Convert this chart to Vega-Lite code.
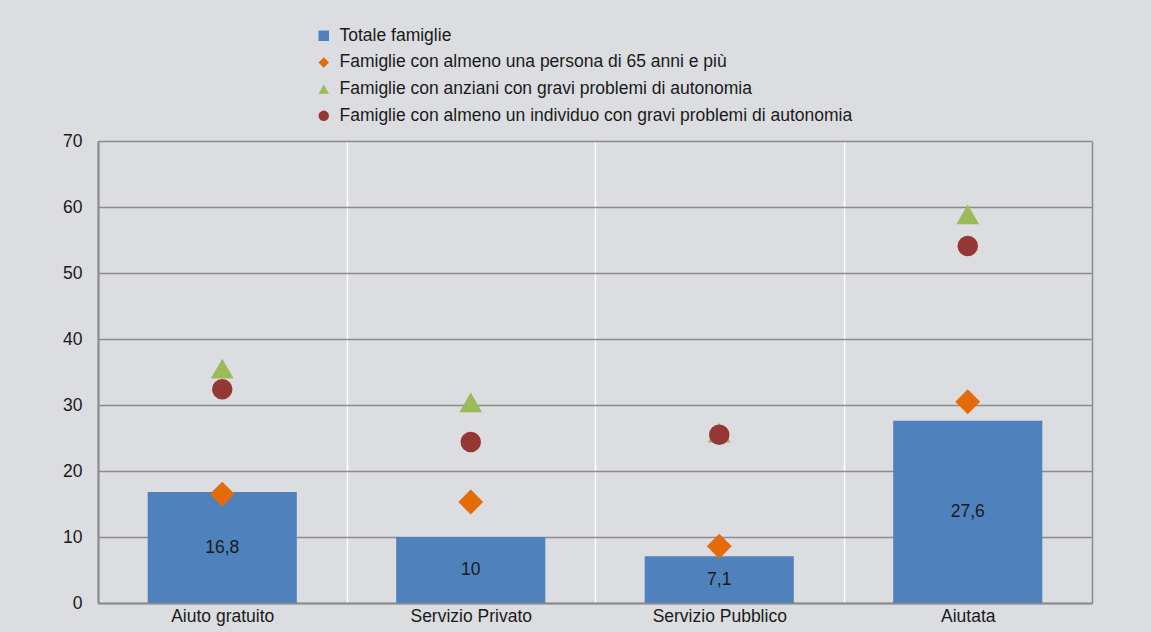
{
  "$schema": "https://vega.github.io/schema/vega-lite/v6.json",
  "width": 994,
  "height": 462,
  "autosize": {"type": "none"},
  "padding": {"left": 98, "top": 141, "right": 59, "bottom": 29},
  "background": "#dcdde0",
  "config": {
    "view": {"stroke": null},
    "font": "Liberation Sans",
    "locale": {"number": {"decimal": ",", "thousands": ".", "grouping": [3], "currency": ["€", ""]}},
    "legend": {
      "orient": "none",
      "legendX": 217,
      "legendY": -114,
      "title": null,
      "labelFontSize": 17.5,
      "labelColor": "#1a1a1a",
      "labelLimit": 800,
      "symbolSize": 110,
      "labelOffset": 7,
      "rowPadding": 7.7,
      "padding": 0,
      "symbolStrokeWidth": 0
    }
  },
  "data": {
    "values": [
      {"categoria": "Aiuto gratuito", "serie": "Totale famiglie", "valore": 16.8},
      {"categoria": "Servizio Privato", "serie": "Totale famiglie", "valore": 10},
      {"categoria": "Servizio Pubblico", "serie": "Totale famiglie", "valore": 7.1},
      {"categoria": "Aiutata", "serie": "Totale famiglie", "valore": 27.6},
      {"categoria": "Aiuto gratuito", "serie": "Famiglie con almeno una persona di 65 anni e più", "valore": 16.5},
      {"categoria": "Servizio Privato", "serie": "Famiglie con almeno una persona di 65 anni e più", "valore": 15.3},
      {"categoria": "Servizio Pubblico", "serie": "Famiglie con almeno una persona di 65 anni e più", "valore": 8.6},
      {"categoria": "Aiutata", "serie": "Famiglie con almeno una persona di 65 anni e più", "valore": 30.5},
      {"categoria": "Aiuto gratuito", "serie": "Famiglie con anziani con gravi problemi di autonomia", "valore": 35.5},
      {"categoria": "Servizio Privato", "serie": "Famiglie con anziani con gravi problemi di autonomia", "valore": 30.4},
      {"categoria": "Servizio Pubblico", "serie": "Famiglie con anziani con gravi problemi di autonomia", "valore": 25.8},
      {"categoria": "Aiutata", "serie": "Famiglie con anziani con gravi problemi di autonomia", "valore": 58.9},
      {"categoria": "Aiuto gratuito", "serie": "Famiglie con almeno un individuo con gravi problemi di autonomia", "valore": 32.4},
      {"categoria": "Servizio Privato", "serie": "Famiglie con almeno un individuo con gravi problemi di autonomia", "valore": 24.4},
      {"categoria": "Servizio Pubblico", "serie": "Famiglie con almeno un individuo con gravi problemi di autonomia", "valore": 25.5},
      {"categoria": "Aiutata", "serie": "Famiglie con almeno un individuo con gravi problemi di autonomia", "valore": 54.1}
    ]
  },
  "encoding": {
    "x": {
      "field": "categoria",
      "type": "nominal",
      "sort": ["Aiuto gratuito", "Servizio Privato", "Servizio Pubblico", "Aiutata"],
      "scale": {"paddingInner": 0, "paddingOuter": 0},
      "axis": {
        "title": null,
        "labelAngle": 0,
        "labelFontSize": 17.5,
        "labelColor": "#1a1a1a",
        "labelPadding": 4,
        "ticks": false,
        "tickBand": "extent",
        "grid": true,
        "gridColor": {"condition": {"test": "datum.value === 'Aiutata' || datum.extra", "value": "#8c8c8c"}, "value": "#ffffff"},
        "gridWidth": 1.5,
        "domainColor": "#8c8c8c",
        "domainWidth": 2
      }
    },
    "y": {
      "field": "valore",
      "type": "quantitative",
      "scale": {"domain": [0, 70], "nice": false},
      "axis": {
        "title": null,
        "values": [0, 10, 20, 30, 40, 50, 60, 70],
        "labelFontSize": 17.5,
        "labelColor": "#1a1a1a",
        "labelPadding": 16,
        "ticks": false,
        "grid": true,
        "gridColor": "#8c8c8c",
        "gridWidth": 1.5,
        "domainColor": "#8c8c8c",
        "domainWidth": 2
      }
    }
  },
  "layer": [
    {
      "transform": [{"filter": "datum.serie === 'Totale famiglie'"}],
      "mark": {"type": "bar", "width": {"band": 0.6}},
      "encoding": {
        "color": {
          "field": "serie",
          "type": "nominal",
          "scale": {
            "domain": ["Totale famiglie", "Famiglie con almeno una persona di 65 anni e più", "Famiglie con anziani con gravi problemi di autonomia", "Famiglie con almeno un individuo con gravi problemi di autonomia"],
            "range": ["#4f81bd", "#e36c09", "#9bbb59", "#953735"]
          }
        }
      }
    },
    {
      "transform": [
        {"filter": "datum.serie === 'Totale famiglie'"},
        {"calculate": "datum.valore / 2", "as": "meta"}
      ],
      "mark": {"type": "text", "fontSize": 17.5, "color": "#1a1a1a", "baseline": "middle", "align": "center"},
      "encoding": {
        "y": {"field": "meta", "type": "quantitative"},
        "text": {"field": "valore", "type": "quantitative", "format": ".3~g"}
      }
    },
    {
      "transform": [{"filter": "datum.serie !== 'Totale famiglie'"}],
      "mark": {"type": "point", "filled": true, "opacity": 1},
      "encoding": {
        "color": {"field": "serie", "type": "nominal"},
        "shape": {
          "field": "serie",
          "type": "nominal",
          "scale": {
            "domain": ["Totale famiglie", "Famiglie con almeno una persona di 65 anni e più", "Famiglie con anziani con gravi problemi di autonomia", "Famiglie con almeno un individuo con gravi problemi di autonomia"],
            "range": ["square", "diamond", "triangle-up", "circle"]
          }
        },
        "size": {
          "field": "serie",
          "type": "nominal",
          "legend": null,
          "scale": {
            "domain": ["Famiglie con almeno una persona di 65 anni e più", "Famiglie con anziani con gravi problemi di autonomia", "Famiglie con almeno un individuo con gravi problemi di autonomia"],
            "range": [620, 420, 400]
          }
        }
      }
    }
  ]
}
